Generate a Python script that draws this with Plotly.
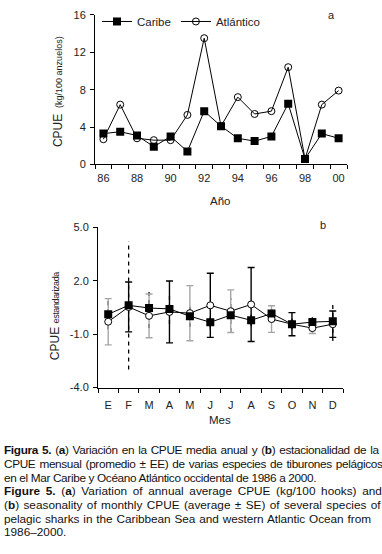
import plotly.graph_objects as go

# ---------------- data ----------------
years = list(range(86, 101))
year_ticks = [86, 88, 90, 92, 94, 96, 98, 100]
year_labels = ["86", "88", "90", "92", "94", "96", "98", "00"]
caribe_year = [3.3, 3.5, 3.1, 1.9, 3.0, 1.4, 5.7, 4.1, 2.8, 2.5, 3.0, 6.5, 0.6, 3.3, 2.8]
atlantico_year = [2.7, 6.4, 2.8, 2.6, 2.6, 5.3, 13.5, 4.1, 7.2, 5.4, 5.7, 10.4, 0.6, 6.4, 7.9]

months = list(range(1, 13))
month_labels = ["E", "F", "M", "A", "M", "J", "J", "A", "S", "O", "N", "D"]
caribe_month = [0.12, 0.62, 0.47, 0.42, 0.01, -0.33, 0.07, -0.22, 0.16, -0.44, -0.32, -0.28]
caribe_se = [0.85, 3.6, 1.13, 0.85, 0.6, 0.37, 0.95, 0.33, 0.45, 0.3, 0.4, 1.1]
atlantico_month = [-0.30, 0.53, 0.03, 0.25, 0.18, 0.62, 0.29, 0.67, -0.15, -0.44, -0.66, -0.44]
atlantico_se = [1.3, 1.4, 1.23, 1.74, 1.55, 1.8, 1.2, 2.08, 0.75, 0.65, 0.3, 0.74]

caption_lines = [
    "<b>Figura 5.</b> (<b>a</b>) Variación en la CPUE media anual y (<b>b</b>) estacionalidad de la",
    "CPUE mensual (promedio ± EE) de varias especies de tiburones pelágicos",
    "en el Mar Caribe y Océano Atlántico occidental de 1986 a 2000.",
    "<b>Figure 5.</b> (<b>a</b>) Variation of annual average CPUE (kg/100 hooks) and",
    "(<b>b</b>) seasonality of monthly CPUE (average ± SE) of several species of",
    "pelagic sharks in the Caribbean Sea and western Atlantic Ocean from",
    "1986–2000.",
]

# ---------------- figure ----------------
W, H = 382, 554
def py(p):
    return 1 - p / H

fig = go.Figure()
FONT = "Liberation Sans, Arial, sans-serif"
TXT = "#222222"

# top panel
fig.add_trace(go.Scatter(x=years, y=caribe_year, mode="lines+markers", name="Caribe",
                         line=dict(color="black", width=1),
                         marker=dict(symbol="square", size=8, color="black"),
                         xaxis="x", yaxis="y"))
fig.add_trace(go.Scatter(x=years, y=atlantico_year, mode="lines+markers", name="Atlántico",
                         line=dict(color="black", width=1),
                         marker=dict(symbol="circle-open", size=7, color="black", line=dict(width=1)),
                         xaxis="x", yaxis="y"))

# bottom panel: Caribe dashed error bars
ex, ey = [], []
for m, v, s in zip(months, caribe_month, caribe_se):
    ex += [m, m, None]
    ey += [v - s, v + s, None]
fig.add_trace(go.Scatter(x=ex, y=ey, mode="lines", showlegend=False,
                         line=dict(color="black", width=1.3, dash="4px,4px"),
                         xaxis="x2", yaxis="y2", hoverinfo="skip"))

# Atlántico error bars, alternating grey / black
for start, col in [(0, "#a6a6a6"), (1, "black")]:
    idx = list(range(start, 12, 2))
    fig.add_trace(go.Scatter(x=[months[i] for i in idx], y=[atlantico_month[i] for i in idx],
                             mode="markers", showlegend=False,
                             marker=dict(size=1, color="rgba(0,0,0,0)"),
                             error_y=dict(type="data", array=[atlantico_se[i] for i in idx],
                                          color=col, thickness=1.4, width=3.5),
                             xaxis="x2", yaxis="y2", hoverinfo="skip"))

fig.add_trace(go.Scatter(x=months, y=atlantico_month, mode="lines+markers", showlegend=False,
                         line=dict(color="black", width=1),
                         marker=dict(symbol="circle", size=7, color="white", line=dict(width=1, color="black")),
                         xaxis="x2", yaxis="y2"))
fig.add_trace(go.Scatter(x=months, y=caribe_month, mode="lines+markers", showlegend=False,
                         line=dict(color="black", width=1),
                         marker=dict(symbol="square", size=8, color="black"),
                         xaxis="x2", yaxis="y2"))

axis_common = dict(showgrid=False, zeroline=False, showline=True, linecolor="black", linewidth=1,
                   tickfont=dict(family=FONT, size=11, color=TXT), ticklen=4, tickcolor="black")

fig.update_layout(
    width=W, height=H,
    margin=dict(l=0, r=0, t=0, b=0),
    paper_bgcolor="white", plot_bgcolor="white",
    font=dict(family=FONT, color=TXT),
    xaxis=dict(domain=[95 / W, 347 / W], range=[85.5, 100.5], anchor="y",
               tickmode="array", tickvals=year_ticks, ticktext=year_labels, ticks="",
               ticklabelstandoff=3,
               minor=dict(tickmode="linear", tick0=85.5, dtick=1, ticks="outside", ticklen=4, tickcolor="black"),
               **axis_common),
    yaxis=dict(domain=[py(162), py(9)], range=[0, 16], anchor="x", ticklabelstandoff=2,
               tickmode="array", tickvals=[0, 4, 8, 12, 16], ticks="outside", **axis_common),
    xaxis2=dict(domain=[98 / W, 343 / W], range=[0.5, 12.5], anchor="y2",
                tickmode="array", tickvals=months, ticktext=month_labels, ticks="",
                ticklabelstandoff=7,
                minor=dict(tickmode="linear", tick0=0.5, dtick=1, ticks="outside", ticklen=4, tickcolor="black"),
                **axis_common),
    yaxis2=dict(domain=[py(390), py(226.3)], range=[-4, 5], anchor="x2", ticklabelstandoff=2,
                tickmode="array", tickvals=[5, 2, -1, -4], ticktext=["5.0", "2.0", "-1.0", "-4.0"],
                ticks="outside", **axis_common),
    legend=dict(orientation="h", x=97 / W, y=py(1), xanchor="left", yanchor="top",
                font=dict(family=FONT, size=11.5, color=TXT), bgcolor="rgba(0,0,0,0)",
                itemwidth=30, tracegroupgap=0),
    showlegend=True,
)

ann = []
ann.append(dict(text="a", x=331 / W, y=py(9), font=dict(size=11)))
ann.append(dict(text="b", x=323 / W, y=py(224), font=dict(size=11)))
ann.append(dict(text="Año", x=220 / W, y=py(199), font=dict(size=11.5)))
ann.append(dict(text="Mes", x=220 / W, y=py(423), font=dict(size=11.5)))
ann.append(dict(text="CPUE <span style='font-size:9px'> (kg/100 anzuelos)</span>", x=58 / W, y=py(88),
                textangle=-90, font=dict(size=12)))
ann.append(dict(text="CPUE <span style='font-size:9px;letter-spacing:-0.4px'>estandarizada</span>",
                x=55 / W, y=py(317), textangle=-90, font=dict(size=12)))
for a in ann:
    a.update(xref="paper", yref="paper", showarrow=False, xanchor="center", yanchor="middle")
    a["font"].update(family=FONT, color=TXT)

cap_y = [454, 468, 482, 496, 510, 524, 537.5]
cap_ws = [1.1, 1.1, 0, 2.4, 1.1, 0.7, 0]
cap_ls = [-0.35, -0.35, -0.35, 0, 0, -0.05, 0]
for t, yy, ws, ls in zip(caption_lines, cap_y, cap_ws, cap_ls):
    styled = f"<span style='word-spacing:{ws}px;letter-spacing:{ls}px'>{t}</span>"
    ann.append(dict(text=styled, x=2 / W, y=py(yy), xref="paper", yref="paper", showarrow=False,
                    xanchor="left", yanchor="middle", font=dict(family=FONT, size=11.8, color="#111111")))

fig.update_layout(annotations=ann)
fig.write_html("out.html", config={"displayModeBar": False},
               post_script="document.body.style.margin='0px';")
